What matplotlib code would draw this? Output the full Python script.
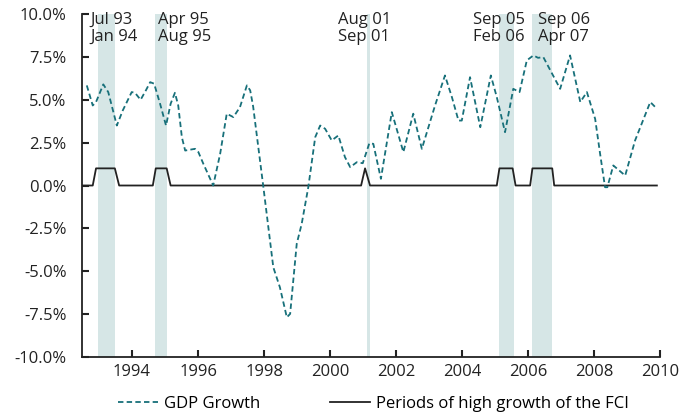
import matplotlib.pyplot as plt
from matplotlib.ticker import FuncFormatter

# ---------- Data ----------
gdp_years = [1992.63, 1992.81, 1992.91, 1993.13, 1993.28, 1993.54, 1993.72, 1993.99,
             1994.09, 1994.26, 1994.42, 1994.55, 1994.67, 1994.85, 1995.03, 1995.17,
             1995.30, 1995.40, 1995.51, 1995.61, 1995.91, 1996.01, 1996.16, 1996.46,
             1996.67, 1996.87, 1997.07, 1997.27, 1997.48, 1997.58, 1997.67, 1997.98,
             1998.28, 1998.48, 1998.69, 1998.79, 1998.99, 1999.14, 1999.34, 1999.55,
             1999.70, 1999.85, 2000.05, 2000.25, 2000.45, 2000.61, 2000.81, 2000.99,
             2001.19, 2001.31, 2001.54, 2001.87, 2002.22, 2002.52, 2002.78, 2003.18,
             2003.48, 2003.69, 2003.89, 2003.99, 2004.24, 2004.55, 2004.87, 2005.05,
             2005.30, 2005.55, 2005.74, 2005.96, 2006.16, 2006.30, 2006.46, 2006.97,
             2007.27, 2007.58, 2007.78, 2008.03, 2008.18, 2008.33, 2008.40, 2008.58,
             2008.94, 2009.24, 2009.70, 2009.90]
gdp_growth = [5.84, 4.67, 4.87, 5.90, 5.45, 3.50, 4.38, 5.45,
              5.41, 5.00, 5.55, 6.03, 5.94, 4.77, 3.50, 4.77,
              5.41, 4.67, 2.82, 2.04, 2.14, 1.95, 1.27, 0.00,
              1.85, 4.19, 3.99, 4.57, 5.84, 5.55, 4.60, -0.10,
              -4.77, -5.94, -7.69, -7.49, -3.40, -2.24, -0.10, 2.82,
              3.50, 3.31, 2.63, 2.92, 1.66, 1.07, 1.36, 1.30,
              2.47, 2.43, 0.39, 4.28, 1.95, 4.19, 2.14, 4.67,
              6.42, 5.16, 3.79, 3.79, 6.32, 3.40, 6.42, 5.16,
              3.11, 5.64, 5.45, 7.30, 7.59, 7.45, 7.49, 5.64,
              7.59, 4.87, 5.45, 3.89, 1.85, -0.10, -0.10, 1.17,
              0.58, 2.63, 4.87, 4.48]

fci_years = [1992.48, 1992.81, 1992.91, 1993.48, 1993.61, 1994.63, 1994.72, 1995.05,
             1995.17, 2000.94, 2001.06, 2001.21, 2005.05, 2005.13, 2005.53, 2005.62,
             2006.06, 2006.13, 2006.73, 2006.79, 2009.90]
fci_high = [0, 0, 1, 1, 0, 0, 1, 1,
            0, 0, 1, 0, 0, 1, 1, 0,
            0, 1, 1, 0, 0]

band_start = [1992.97, 1994.70, 2001.12, 2005.12, 2006.12]
band_end = [1993.48, 1995.06, 2001.20, 2005.58, 2006.72]
band_labels = ['Jul 93\nJan 94', 'Apr 95\nAug 95', 'Aug 01\nSep 01',
               'Sep 05\nFeb 06', 'Sep 06\nApr 07']
label_x = [1992.73, 1994.79, 2000.24, 2004.33, 2006.30]

# ---------- Style ----------
plt.rcParams['font.family'] = ['Open Sans', 'DejaVu Sans']
fs = 12
teal = '#17707a'
band_col = '#d6e6e6'

fig = plt.figure(figsize=(6.82, 4.15), dpi=100)
ax = fig.add_axes([0.120, 0.140, 0.848, 0.826])

for s, e in zip(band_start, band_end):
    ax.axvspan(s, e, color=band_col, lw=0, zorder=0)

ax.plot(gdp_years, gdp_growth, color=teal, lw=1.3, ls=(0, (3, 1.8)),
        label='GDP Growth', zorder=3)
ax.plot(fci_years, fci_high, color='#222222', lw=1.3,
        label='Periods of high growth of the FCI', zorder=2)

for x, txt in zip(label_x, band_labels):
    ax.text(x, 10.15, txt, ha='left', va='top', linespacing=1.12,
            color='#222222', fontsize=fs)

# ---------- Axes ----------
ax.set_xlim(1992.48, 2010)
ax.set_ylim(-10, 10)
ax.set_xticks(range(1994, 2011, 2))
ax.set_yticks([-10, -7.5, -5, -2.5, 0, 2.5, 5, 7.5, 10])
ax.yaxis.set_major_formatter(FuncFormatter(lambda v, p: f'{v:.1f}%'))
ax.tick_params(direction='in', length=5, width=1.5, colors='#222222', labelsize=fs)
ax.tick_params(axis='x', pad=5)
ax.tick_params(axis='y', pad=11)
for side in ['top', 'right']:
    ax.spines[side].set_visible(False)
for side in ['left', 'bottom']:
    ax.spines[side].set_linewidth(1.3)
    ax.spines[side].set_color('#222222')

fig.legend(loc='center', bbox_to_anchor=(0.548, 1 - 404 / 415), ncol=2, frameon=False,
           handlelength=2.4, handletextpad=0.35, columnspacing=4.2, fontsize=fs)

fig.savefig('out.png', dpi=100)
